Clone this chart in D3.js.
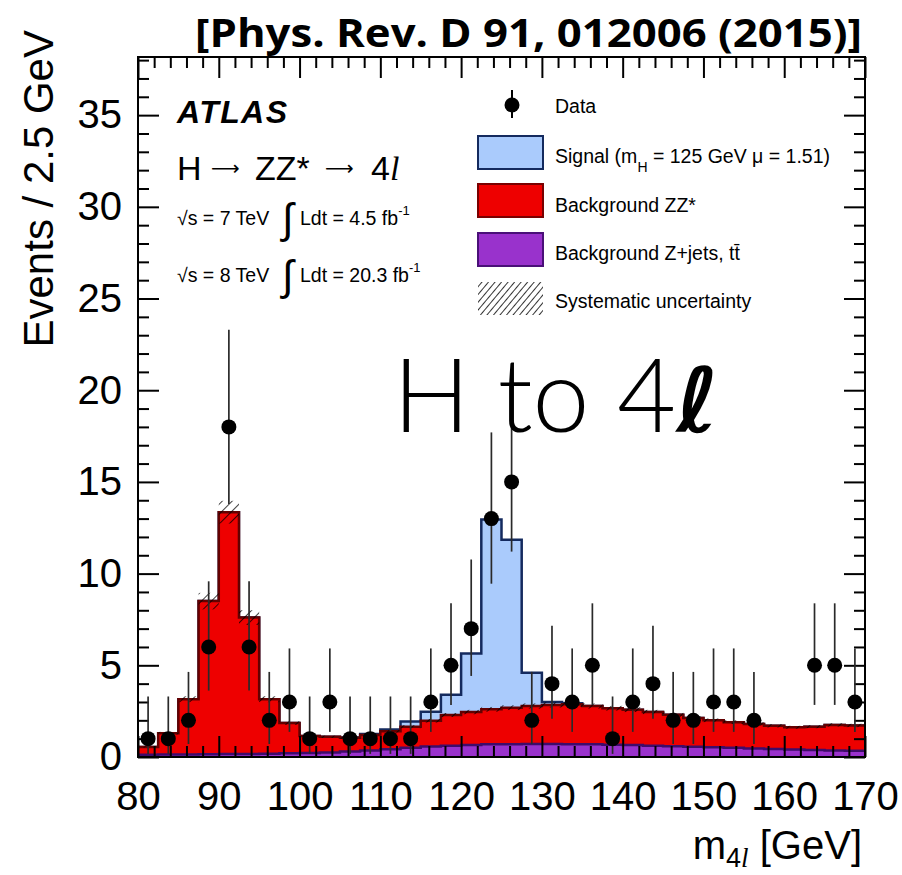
<!DOCTYPE html>
<html>
<head>
<meta charset="utf-8">
<script src="https://cdn.jsdelivr.net/npm/d3@7/dist/d3.min.js"></script>
<style>
  body { margin: 0; background: #fff; }
</style>
</head>
<body>
<svg id="chart" width="902" height="875" font-family="Liberation Sans, Arial, Helvetica, sans-serif"></svg>
<script>
// Four-lepton invariant mass, 2.5 GeV bins from 80 to 170 GeV
const binLow = [80, 82.5, 85, 87.5, 90, 92.5, 95, 97.5, 100, 102.5, 105, 107.5,
  110, 112.5, 115, 117.5, 120, 122.5, 125, 127.5, 130, 132.5, 135, 137.5,
  140, 142.5, 145, 147.5, 150, 152.5, 155, 157.5, 160, 162.5, 165, 167.5];
const binWidth = 2.5;

// Expected events per bin, one array per stacked component
const zjetsTtbar = [0.12, 0.13, 0.14, 0.15, 0.16, 0.17, 0.18, 0.20, 0.22, 0.25, 0.30, 0.35,
  0.42, 0.50, 0.57, 0.62, 0.66, 0.69, 0.70, 0.71, 0.71, 0.70, 0.69, 0.67,
  0.65, 0.62, 0.59, 0.56, 0.53, 0.50, 0.47, 0.44, 0.41, 0.38, 0.36, 0.34];
const zzStar = [0.43, 1.17, 3.01, 8.35, 13.19, 7.43, 2.97, 1.65, 0.93, 0.85, 0.75, 0.85,
  0.98, 1.15, 1.41, 1.67, 1.79, 1.91, 1.99, 2.07, 2.13, 2.18, 2.09, 1.99,
  1.93, 1.83, 1.71, 1.56, 1.47, 1.40, 1.33, 1.26, 1.21, 1.27, 1.39, 1.38];
const signalH125 = [0, 0, 0, 0, 0, 0, 0, 0, 0, 0, 0.02, 0.05,
  0.10, 0.28, 0.49, 1.11, 3.20, 10.35, 9.16, 1.82, 0.16, 0.05, 0, 0,
  0, 0, 0, 0, 0, 0, 0, 0, 0, 0, 0, 0];
// Systematic uncertainty on the total background (absolute, events)
const systUnc = [0.03, 0.07, 0.16, 0.45, 0.62, 0.40, 0.16, 0.10, 0.06, 0.06, 0.06, 0.06,
  0.07, 0.08, 0.10, 0.11, 0.12, 0.13, 0.13, 0.14, 0.14, 0.14, 0.14, 0.13,
  0.13, 0.12, 0.12, 0.11, 0.10, 0.10, 0.09, 0.09, 0.08, 0.08, 0.09, 0.09];

// Observed events and their 68% Poisson intervals
const dataCounts = [1, 1, 2, 6, 18, 6, 2, 3, 1, 3, 1, 1,
  1, 1, 3, 5, 7, 13, 15, 2, 4, 3, 5, 1,
  3, 4, 2, 2, 3, 3, 2, 0, 0, 5, 5, 3];
const dataErrLow = [0.17, 0.17, 0.71, 3.62, 13.8, 3.62, 0.71, 1.37, 0.17, 1.37, 0.17, 0.17,
  0.17, 0.17, 1.37, 2.84, 4.42, 9.45, 11.2, 0.71, 2.09, 1.37, 2.84, 0.17,
  1.37, 2.09, 0.71, 0.71, 1.37, 1.37, 0.71, null, null, 2.84, 2.84, 1.37];
const dataErrHigh = [3.30, 3.30, 4.64, 9.58, 23.3, 9.58, 4.64, 5.92, 3.30, 5.92, 3.30, 3.30,
  3.30, 3.30, 5.92, 8.38, 10.77, 17.7, 19.95, 4.64, 7.16, 5.92, 8.38, 3.30,
  5.92, 7.16, 4.64, 4.64, 5.92, 5.92, 4.64, null, null, 8.38, 8.38, 5.92];

const xTickLabels = [80, 90, 100, 110, 120, 130, 140, 150, 160, 170];
const yTickLabels = [0, 5, 10, 15, 20, 25, 30, 35];

const svg = d3.select("#chart");
const frame = { left: 138, right: 865, top: 57, bottom: 757 };

const x = d3.scaleLinear().domain([80, 170]).range([frame.left, frame.right]);
const y = d3.scaleLinear().domain([0, 38.17]).range([frame.bottom, frame.top]);

const colors = {
  sigFill: "#aacbfc", sigLine: "#142a5e",
  zzFill: "#ee0000", zzLine: "#640000",
  zjFill: "#9932cc", zjLine: "#3e0b6a"
};
const SANS = "Liberation Sans, Arial, Helvetica, sans-serif";

const defs = svg.append("defs");
defs.append("clipPath").attr("id", "plotClip")
  .append("rect").attr("x", frame.left).attr("y", frame.top)
  .attr("width", frame.right - frame.left).attr("height", frame.bottom - frame.top);
const hatch = defs.append("pattern").attr("id", "hatch")
  .attr("patternUnits", "userSpaceOnUse").attr("width", 7).attr("height", 7)
  .attr("patternTransform", "rotate(45)");
hatch.append("line").attr("x1", 0).attr("y1", 0).attr("x2", 0).attr("y2", 7)
  .attr("stroke", "#000").attr("stroke-width", 1.5);
const hatchLegend = defs.append("pattern").attr("id", "hatchLegend")
  .attr("patternUnits", "userSpaceOnUse").attr("width", 5).attr("height", 5)
  .attr("patternTransform", "rotate(40)");
hatchLegend.append("line").attr("x1", 0).attr("y1", 0).attr("x2", 0).attr("y2", 5)
  .attr("stroke", "#000").attr("stroke-width", 1.6);

// Cumulative stack heights
const stackZj = zjetsTtbar.slice();
const stackBkg = zjetsTtbar.map((v, i) => v + zzStar[i]);
const stackTot = stackBkg.map((v, i) => v + signalH125[i]);

function stepPoints(vals) {
  const pts = binLow.map((lo, i) => ({ x: lo, v: vals[i] }));
  pts.push({ x: binLow[binLow.length - 1] + binWidth, v: vals[vals.length - 1] });
  return pts;
}
const area = d3.area().curve(d3.curveStepAfter)
  .x(d => x(d.x)).y0(y(0)).y1(d => y(d.v));
const line = d3.line().curve(d3.curveStepAfter)
  .x(d => x(d.x)).y(d => y(d.v));

const plot = svg.append("g").attr("clip-path", "url(#plotClip)");

function drawHist(vals, fill, stroke) {
  const pts = stepPoints(vals);
  plot.append("path").datum(pts).attr("d", area).attr("fill", fill);
  plot.append("path").datum(pts).attr("d", line)
    .attr("fill", "none").attr("stroke", stroke).attr("stroke-width", 2.5);
}
drawHist(stackTot, colors.sigFill, colors.sigLine);
drawHist(stackBkg, colors.zzFill, colors.zzLine);
drawHist(stackZj, colors.zjFill, colors.zjLine);

// Systematic band on the background
plot.append("g").selectAll("rect").data(binLow).join("rect")
  .attr("x", d => x(d))
  .attr("width", d => x(d + binWidth) - x(d))
  .attr("y", (d, i) => y(stackBkg[i] + systUnc[i]))
  .attr("height", (d, i) => y(stackBkg[i] - systUnc[i]) - y(stackBkg[i] + systUnc[i]))
  .attr("fill", "url(#hatch)");

// Axes: ticks point inward on all four sides
function styleAxis(g) {
  g.select(".domain").remove();
  g.selectAll(".tick line").attr("stroke", "#000").attr("stroke-width", 2);
}
function styleLabels(g) {
  g.selectAll("text").attr("font-size", 40).attr("fill", "#000").attr("font-family", SANS);
}
const xMinor = d3.range(80, 170.001, 2).filter(v => v % 10 !== 0);
const yMinor = d3.range(0, 38.5, 1).filter(v => v % 5 !== 0);
const yMajorAll = d3.range(0, 38.5, 5);

svg.append("g").attr("transform", `translate(0,${frame.bottom})`)
  .call(d3.axisBottom(x).tickValues(xTickLabels).tickSize(-21).tickPadding(25).tickFormat(d3.format("d")))
  .call(styleAxis).call(styleLabels);
svg.append("g").attr("transform", `translate(0,${frame.bottom})`)
  .call(d3.axisBottom(x).tickValues(xMinor).tickSize(-11).tickFormat(""))
  .call(styleAxis);
svg.append("g").attr("transform", `translate(0,${frame.top})`)
  .call(d3.axisTop(x).tickValues(xTickLabels).tickSize(-21).tickFormat(""))
  .call(styleAxis);
svg.append("g").attr("transform", `translate(0,${frame.top})`)
  .call(d3.axisTop(x).tickValues(xMinor).tickSize(-11).tickFormat(""))
  .call(styleAxis);

svg.append("g").attr("transform", `translate(${frame.left},0)`)
  .call(d3.axisLeft(y).tickValues(yTickLabels).tickSize(-21).tickPadding(16).tickFormat(d3.format("d")))
  .call(styleAxis).call(styleLabels);
svg.append("g").attr("transform", `translate(${frame.left},0)`)
  .call(d3.axisLeft(y).tickValues(yMinor).tickSize(-11).tickFormat(""))
  .call(styleAxis);
svg.append("g").attr("transform", `translate(${frame.right},0)`)
  .call(d3.axisRight(y).tickValues(yMajorAll).tickSize(-21).tickFormat(""))
  .call(styleAxis);
svg.append("g").attr("transform", `translate(${frame.right},0)`)
  .call(d3.axisRight(y).tickValues(yMinor).tickSize(-11).tickFormat(""))
  .call(styleAxis);

svg.append("rect").attr("x", frame.left).attr("y", frame.top)
  .attr("width", frame.right - frame.left).attr("height", frame.bottom - frame.top)
  .attr("fill", "none").attr("stroke", "#000").attr("stroke-width", 2);

// Data points with asymmetric Poisson error bars
const dataPts = binLow.map((lo, i) => ({
  c: lo + binWidth / 2, n: dataCounts[i], lo: dataErrLow[i], hi: dataErrHigh[i]
})).filter(d => d.n > 0);
const dataG = svg.append("g").attr("clip-path", "url(#plotClip)");
dataG.selectAll("line").data(dataPts).join("line")
  .attr("x1", d => x(d.c)).attr("x2", d => x(d.c))
  .attr("y1", d => y(d.lo)).attr("y2", d => y(d.hi))
  .attr("stroke", "#2a2a2a").attr("stroke-width", 1.7);
dataG.selectAll("circle").data(dataPts).join("circle")
  .attr("cx", d => x(d.c)).attr("cy", d => y(d.n)).attr("r", 7.5).attr("fill", "#000");

// Axis titles
svg.append("text").attr("transform", "translate(53,30) rotate(-90)")
  .attr("text-anchor", "end").attr("font-size", 42).text("Events / 2.5 GeV");
const xt = svg.append("text").attr("x", 862).attr("y", 859)
  .attr("text-anchor", "end").attr("font-size", 40);
xt.append("tspan").text("m");
xt.append("tspan").attr("font-size", 27).attr("dy", 8).text("4");
xt.append("tspan").attr("font-size", 27).attr("font-style", "italic")
  .attr("font-family", "Liberation Serif, serif").text("l");
xt.append("tspan").attr("dy", -8).text(" [GeV]");

// Reference line above the frame
svg.append("text").attr("x", 195).attr("y", 47)
  .attr("font-family", "Open Sans, sans-serif").attr("font-weight", 700)
  .attr("font-size", 40).attr("textLength", 667).attr("lengthAdjust", "spacingAndGlyphs")
  .text("[Phys. Rev. D 91, 012006 (2015)]");

// Experiment and channel labels
svg.append("text").attr("x", 177).attr("y", 123)
  .attr("font-weight", 700).attr("font-style", "italic").attr("font-size", 32)
  .attr("textLength", 110).attr("lengthAdjust", "spacing")
  .text("ATLAS");
const ch = svg.append("text").attr("y", 180).attr("font-size", 34);
ch.append("tspan").attr("x", 177).text("H");
ch.append("tspan").attr("x", 255).text("ZZ*");
ch.append("tspan").attr("x", 371).text("4");
ch.append("tspan").attr("font-family", "Liberation Serif, serif").attr("font-style", "italic").text("l");
// Long arrows of the decay chain, drawn as separate glyphs
[211, 325].forEach(ax => {
  svg.append("text").attr("x", ax).attr("y", 175)
    .attr("font-family", "DejaVu Sans, sans-serif").attr("font-size", 20)
    .text("\u27F6");
});

function lumiLine(yBase, energy, lumi) {
  svg.append("text").attr("x", 177).attr("y", yBase).attr("font-size", 19.5)
    .text(`\u221As = ${energy} TeV`);
  svg.append("text").attr("x", 282).attr("y", yBase + 8)
    .attr("font-family", "DejaVu Sans, sans-serif").attr("font-weight", 300)
    .attr("font-size", 42).text("\u222B");
  const t = svg.append("text").attr("x", 300).attr("y", yBase).attr("font-size", 19.5);
  t.append("tspan").text(`Ldt = ${lumi} fb`);
  t.append("tspan").attr("font-size", 13).attr("dy", -10).text("-1");
}
lumiLine(225, 7, "4.5");
lumiLine(282, 8, "20.3");

// Legend
const lg = svg.append("g");
lg.append("line").attr("x1", 512).attr("x2", 512).attr("y1", 90).attr("y2", 118)
  .attr("stroke", "#000").attr("stroke-width", 2);
lg.append("circle").attr("cx", 512).attr("cy", 105).attr("r", 7.5).attr("fill", "#000");
const legendRows = [
  { y: 136, fill: colors.sigFill, stroke: colors.sigLine },
  { y: 184, fill: colors.zzFill, stroke: "#7a0000" },
  { y: 233, fill: colors.zjFill, stroke: "#4a1078" },
  { y: 282, fill: "url(#hatchLegend)", stroke: "none" }
];
legendRows.forEach(r => {
  lg.append("rect").attr("x", 478).attr("y", r.y).attr("width", 65).attr("height", 33)
    .attr("fill", r.fill).attr("stroke", r.stroke).attr("stroke-width", 2);
});
const LFS = 19.5;
lg.append("text").attr("x", 555).attr("y", 113).attr("font-size", LFS).text("Data");
const sigTxt = lg.append("text").attr("x", 555).attr("y", 163).attr("font-size", LFS);
sigTxt.append("tspan").text("Signal (m");
sigTxt.append("tspan").attr("font-size", 14).attr("dy", 9).text("H");
sigTxt.append("tspan").attr("dy", -9).text(" = 125 GeV \u03BC = 1.51)");
lg.append("text").attr("x", 555).attr("y", 212).attr("font-size", LFS).text("Background ZZ*");
const zjTxt = lg.append("text").attr("x", 555).attr("y", 260).attr("font-size", LFS);
zjTxt.append("tspan").text("Background Z+jets, t");
zjTxt.append("tspan").text("t\u0304");
lg.append("text").attr("x", 555).attr("y", 308).attr("font-size", LFS).text("Systematic uncertainty");

// Large annotation
const big = svg.append("text").attr("x", 393).attr("y", 432)
  .attr("font-family", "Lato, Open Sans, sans-serif").attr("font-weight", 300)
  .attr("font-size", 102);
big.append("tspan").text("H to 4");
big.append("tspan").attr("font-family", "DejaVu Sans, sans-serif").attr("font-weight", 700)
  .attr("font-style", "italic").attr("font-size", 90).text("\u2113");
</script>
</body>
</html>
